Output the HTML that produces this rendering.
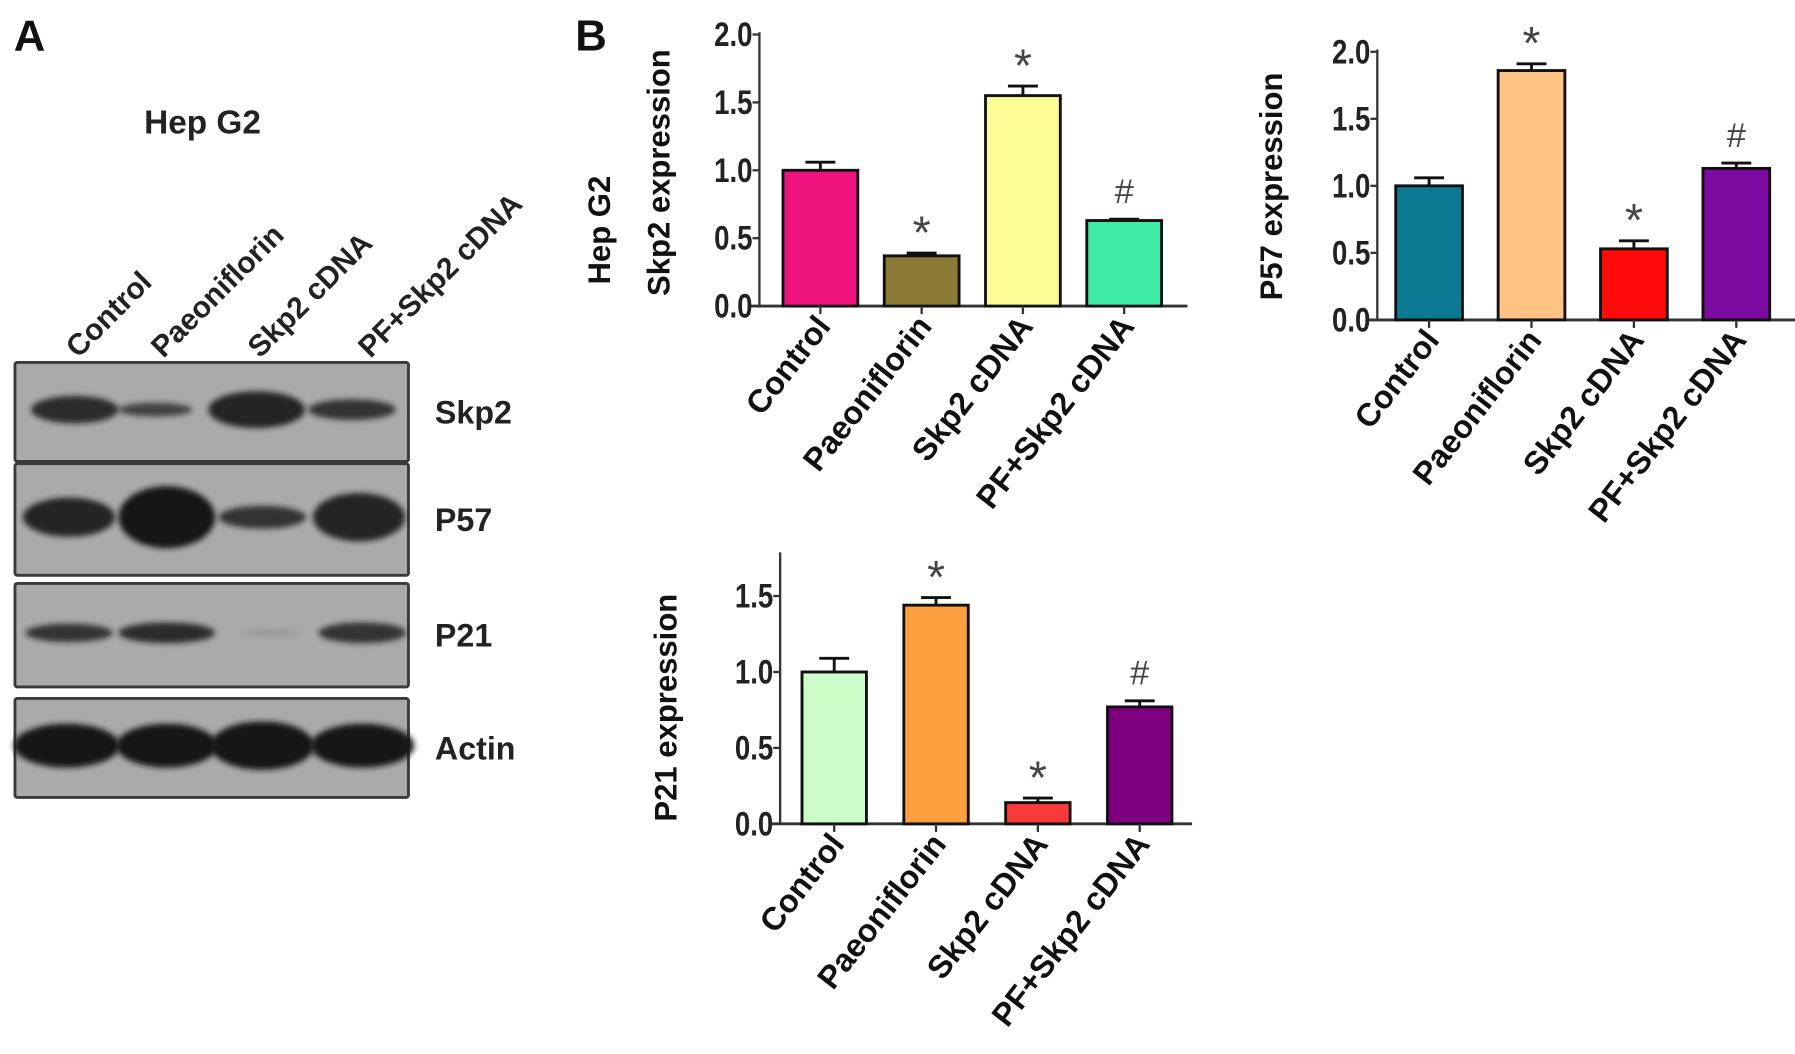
<!DOCTYPE html>
<html><head><meta charset="utf-8"><style>
html,body{margin:0;padding:0;background:#fff;}
svg{display:block;}
text{font-family:"Liberation Sans",Arial,sans-serif;}
</style></head><body>
<svg id="fig" width="1795" height="1054" viewBox="0 0 1560 916" preserveAspectRatio="none">
<defs><filter id="blur" x="-20%" y="-60%" width="140%" height="220%"><feGaussianBlur stdDeviation="2.5"/></filter></defs>
<g id="panelA"></g>
<g id="charts"></g>
</svg>
<script>
const categories = ["Control","Paeoniflorin","Skp2 cDNA","PF+Skp2 cDNA"];
const skp2Values = [1.0, 0.37, 1.55, 0.63];
const skp2Errors = [0.06, 0.02, 0.07, 0.01];
const skp2Marks = ["", "*", "*", "#"];
const p57Values = [1.0, 1.86, 0.53, 1.13];
const p57Errors = [0.06, 0.05, 0.06, 0.04];
const p57Marks = ["", "*", "*", "#"];
const p21Values = [1.0, 1.44, 0.14, 0.77];
const p21Errors = [0.09, 0.05, 0.03, 0.04];
const p21Marks = ["", "*", "*", "#"];
const ticksTwo = [0, 0.5, 1.0, 1.5, 2.0];
const ticksP21 = [0, 0.5, 1.0, 1.5];
const skp2Colors = ["#f0157e","#8a7a35","#fdfd96","#3feaa6"];
const p57Colors = ["#0b7a92","#ffc483","#ff0a0a","#7a0aa0"];
const p21Colors = ["#ccfcc8","#fd9f3e","#f83a3a","#7f007f"];

const NS = "http://www.w3.org/2000/svg";
function mk(tag, attrs, parent, txt){
  const e = document.createElementNS(NS, tag);
  for (const k in attrs) e.setAttribute(k, attrs[k]);
  if (txt !== undefined) e.textContent = txt;
  parent.appendChild(e);
  return e;
}
const charts = document.getElementById('charts');

function drawChart(cfg){
  const g = mk('g', {}, charts);
  
  
  const y = v => cfg.y0 - (v / cfg.ymax) * (cfg.y0 - cfg.ytop);
  const x = i => cfg.x0 + cfg.firstOff + i * cfg.step;
  const ya = mk('line', {x1:cfg.x0, y1:cfg.axTop, x2:cfg.x0, y2:cfg.y0+1, stroke:'#333', 'stroke-width':2}, g);
  
  
  const xa = mk('line', {x1:cfg.x0-10, y1:cfg.y0, x2:cfg.xEnd, y2:cfg.y0, stroke:'#333', 'stroke-width':2.5}, g);
  
  
  cfg.ticks.forEach(t => {
    mk('line', {x1:cfg.x0-6, y1:y(t), x2:cfg.x0, y2:y(t), stroke:'#333', 'stroke-width':2}, g);
    const ax = cfg.x0-6;
    const tl = mk('text', {x:ax, y:y(t)+10, 'text-anchor':'end', 'font-size':30, 'font-weight':'bold', fill:'#222', transform:`translate(${ax} 0) scale(0.8 1) translate(${-ax} 0)`}, g, t.toFixed(1));
    
    
  });
  cfg.values.forEach((v, i) => {
    const cx = x(i);
    const bar = mk('rect', {x:cx-cfg.bw/2, y:y(v), width:cfg.bw, height:cfg.y0-y(v), fill:cfg.colors[i], stroke:'#111', 'stroke-width':2.5}, g);
    
    
    const top = y(v + cfg.errors[i]);
    const eb = mk('path', {d:`M${cx} ${y(v)} V${top} M${cx-13} ${top} H${cx+13}`, stroke:'#111', 'stroke-width':2.5, fill:'none'}, g);
    
    
    mk('line', {x1:cx, y1:cfg.y0, x2:cx, y2:cfg.y0+7, stroke:'#333', 'stroke-width':2}, g);
    if (cfg.marks[i]) {
      const star = cfg.marks[i]==='*';
      const m = mk('text', {x:cx, y:top-(star?4:14), 'text-anchor':'middle', 'font-size':star?40:30, fill:'#444'}, g, cfg.marks[i]);
      
      
    }
    const lx = cx + 10, ly = cfg.y0 + 18;
    const cl = mk('text', {x:lx, y:ly, 'text-anchor':'end', 'font-size':28, 'font-weight':'bold', fill:'#111', transform:`rotate(-52 ${lx} ${ly})`}, g, categories[i]);
    
    
  });
  cfg.titles.forEach(tt => {
    const t = mk('text', {x:tt.x, y:tt.y, 'text-anchor':'middle', 'font-size':27, 'font-weight':'bold', fill:'#111', transform:`rotate(-90 ${tt.x} ${tt.y})`}, g, tt.text);
    
    
  });
}

drawChart({name:'skp2-chart', x0:660, xEnd:1032, y0:266, ytop:30, axTop:28, ymax:2.0, ticks:ticksTwo,
  firstOff:53, step:88, bw:65, values:skp2Values, errors:skp2Errors, marks:skp2Marks, colors:skp2Colors,
  titles:[{x:530,y:200,text:'Hep G2'},{x:582,y:150,text:'Skp2  expression'}]});
drawChart({name:'p57-chart', x0:1197, xEnd:1560, y0:278, ytop:45, axTop:43, ymax:2.0, ticks:ticksTwo,
  firstOff:45, step:89, bw:58, values:p57Values, errors:p57Errors, marks:p57Marks, colors:p57Colors,
  titles:[{x:1114,y:162,text:'P57 expression'}]});
drawChart({name:'p21-chart', x0:678, xEnd:1036, y0:716, ytop:518, axTop:480, ymax:1.5, ticks:ticksP21,
  firstOff:47, step:88.5, bw:56, values:p21Values, errors:p21Errors, marks:p21Marks, colors:p21Colors,
  titles:[{x:588,y:615,text:'P21 expression'}]});

const A = document.getElementById('panelA');
const la = mk('text', {x:12, y:44, 'font-size':38, 'font-weight':'bold', fill:'#111'}, A, 'A');


const lb = mk('text', {x:500, y:44, 'font-size':38, 'font-weight':'bold', fill:'#111'}, charts, 'B');


const hg = mk('text', {x:176, y:116, 'text-anchor':'middle', 'font-size':29, 'font-weight':'bold', fill:'#222'}, A, 'Hep G2');


const laneX = [68, 142, 226, 322];
categories.forEach((c, i) => {
  const lx = laneX[i], ly = 312;
  const t = mk('text', {x:lx, y:ly, 'font-size':26, 'font-weight':'bold', fill:'#222', transform:`rotate(-45 ${lx} ${ly})`}, A, c);
  
  
});
const blots = [
  {name:'Skp2', y:315, h:86, bands:[[65,0.85,12,38],[135,0.7,6,32],[223,0.9,16,42],[306,0.8,9,38]]},
  {name:'P57', y:403, h:97, bands:[[60,0.9,17,40],[145,1,27,42],[228,0.8,10,38],[312,0.9,21,40]]},
  {name:'P21', y:507, h:90, bands:[[60,0.8,8,38],[145,0.85,9,42],[235,0.12,3,25],[315,0.8,9,38]]},
  {name:'Actin', y:607, h:86, bands:[[58,1,19,46],[145,1,19,44],[228,1,21,45],[315,1,19,45]]}
];
blots.forEach(b => {
  const g = mk('g', {}, A);
  
  
  mk('rect', {x:13, y:b.y, width:342, height:b.h, fill:'#aaaaaa', stroke:'#3a3a3a', 'stroke-width':2.5, rx:2}, g);
  b.bands.forEach(bd => {
    mk('ellipse', {cx:bd[0], cy:b.y+b.h/2-2, rx:bd[3], ry:bd[2], fill:'#141414', opacity:bd[1], filter:'url(#blur)'}, g);
  });
  const t = mk('text', {x:378, y:b.y+b.h/2+10, 'font-size':28, 'font-weight':'bold', fill:'#222'}, g, b.name);
  
  
});
</script>
</body></html>
